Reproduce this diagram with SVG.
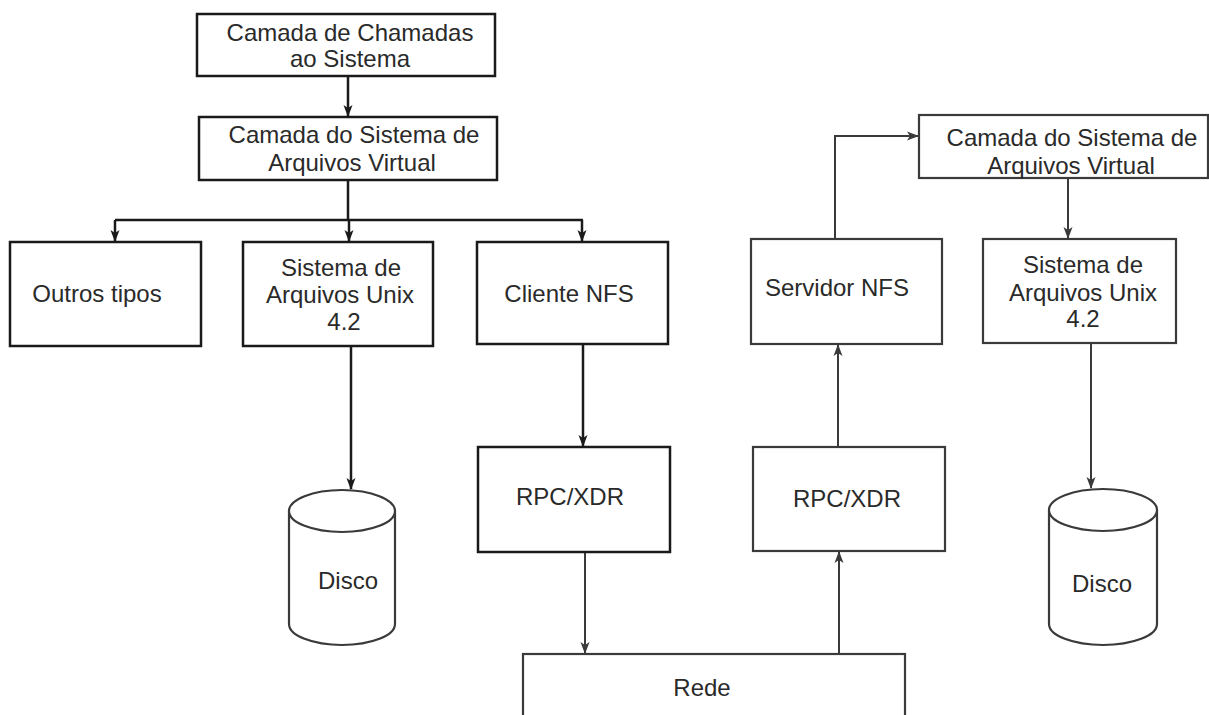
<svg xmlns="http://www.w3.org/2000/svg" width="1209" height="715" viewBox="0 0 1209 715">
<style>
.bx{fill:#fff;stroke:#1a1a1a;stroke-width:2.5}
.bg{fill:#fff;stroke:#3a3a3a;stroke-width:2.2}
.t{font-family:"Liberation Sans",Arial,sans-serif;font-size:24px;fill:#2a2a2a;text-anchor:middle}
.c{fill:none;stroke:#1a1a1a;stroke-width:2.5}
.cg{fill:none;stroke:#3a3a3a;stroke-width:2}
</style>
<defs>
<marker id="ah" viewBox="0 0 12 10" refX="11" refY="5" markerWidth="12" markerHeight="10" markerUnits="userSpaceOnUse" orient="auto">
<path d="M0,0.5 L12,5 L0,9.5 L3,5 Z" fill="#1a1a1a"/>
</marker>
<marker id="ahg" viewBox="0 0 12 10" refX="11" refY="5" markerWidth="12" markerHeight="10" markerUnits="userSpaceOnUse" orient="auto">
<path d="M0,0.5 L12,5 L0,9.5 L3,5 Z" fill="#3a3a3a"/>
</marker>
</defs>
<rect width="1209" height="715" fill="#fff"/>
<g id="connectors">
<path class="c" d="M348,76 V116" marker-end="url(#ah)"/>
<path class="c" d="M348,180 V220"/>
<path class="c" d="M115,220 H583"/>
<path class="c" d="M115,220 V241" marker-end="url(#ah)"/>
<path class="c" d="M349,220 V241" marker-end="url(#ah)"/>
<path class="c" d="M582,220 V241" marker-end="url(#ah)"/>
<path class="c" d="M351,346 V489" marker-end="url(#ah)"/>
<path class="c" d="M583,344 V446" marker-end="url(#ah)"/>
<path class="cg" d="M585,552 V653" marker-end="url(#ahg)"/>
<path class="cg" d="M839,654 V552" marker-end="url(#ahg)"/>
<path class="cg" d="M838,447 V345" marker-end="url(#ahg)"/>
<path class="cg" d="M835,239 V136 H918" marker-end="url(#ahg)"/>
<path class="cg" d="M1068,178 V238" marker-end="url(#ahg)"/>
<path class="cg" d="M1091,343 V488" marker-end="url(#ahg)"/>
</g>
<g id="chamadas">
<rect class="bx" x="197" y="14" width="298" height="62"/>
<text class="t" x="350" y="41">Camada de Chamadas</text>
<text class="t" x="350" y="67">ao Sistema</text>
</g>
<g id="vfs1">
<rect class="bx" x="199" y="117" width="298" height="63"/>
<text class="t" x="354" y="143">Camada do Sistema de</text>
<text class="t" x="352" y="171">Arquivos Virtual</text>
</g>
<g id="outros">
<rect class="bx" x="10" y="242" width="191" height="104"/>
<text class="t" x="97" y="302">Outros tipos</text>
</g>
<g id="unix1">
<rect class="bx" x="243" y="242" width="190" height="104"/>
<text class="t" x="341" y="276">Sistema de</text>
<text class="t" x="340" y="303">Arquivos Unix</text>
<text class="t" x="344" y="330">4.2</text>
</g>
<g id="cliente">
<rect class="bx" x="477" y="242" width="191" height="102"/>
<text class="t" x="569" y="302">Cliente NFS</text>
</g>
<g id="disco1">
<path class="bg" d="M289,511 A53,21 0 0 1 395,511 V624 A53,21 0 0 1 289,624 Z"/>
<path class="bg" d="M289,511 A53,21 0 0 0 395,511"/>
<text class="t" x="348" y="589">Disco</text>
</g>
<g id="rpc1">
<rect class="bx" x="478" y="447" width="192" height="105"/>
<text class="t" x="570" y="505">RPC/XDR</text>
</g>
<g id="rede">
<rect class="bg" x="523" y="654" width="382" height="70"/>
<text class="t" x="702" y="696">Rede</text>
</g>
<g id="rpc2">
<rect class="bg" x="753" y="447" width="192" height="104"/>
<text class="t" x="847" y="507">RPC/XDR</text>
</g>
<g id="servidor">
<rect class="bg" x="751" y="239" width="191" height="105"/>
<text class="t" x="837" y="296">Servidor NFS</text>
</g>
<g id="vfs2">
<rect class="bg" x="919" y="115" width="289" height="63"/>
<text class="t" x="1072" y="146">Camada do Sistema de</text>
<text class="t" x="1071" y="174">Arquivos Virtual</text>
</g>
<g id="unix2">
<rect class="bg" x="983" y="239" width="193" height="104"/>
<text class="t" x="1083" y="273">Sistema de</text>
<text class="t" x="1083" y="301">Arquivos Unix</text>
<text class="t" x="1083" y="327">4.2</text>
</g>
<g id="disco2">
<path class="bg" d="M1049,510 A54,21 0 0 1 1157,510 V624 A54,21 0 0 1 1049,624 Z"/>
<path class="bg" d="M1049,510 A54,21 0 0 0 1157,510"/>
<text class="t" x="1102" y="592">Disco</text>
</g>
</svg>
